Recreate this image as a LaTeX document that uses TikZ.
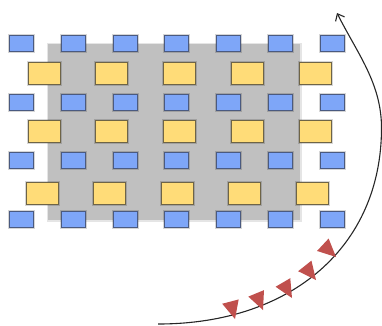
\documentclass[tikz,border=0pt]{standalone}
\usetikzlibrary{calc,arrows.meta}
\definecolor{bluefill}{HTML}{7EA6F8}
\definecolor{blueedge}{HTML}{4A5A80}
\definecolor{yelfill}{HTML}{FFDC78}
\definecolor{yeledge}{HTML}{6E6446}
\definecolor{grayfill}{HTML}{C0C0C0}
\definecolor{trired}{HTML}{C0504D}
\begin{document}
\begin{tikzpicture}[x=1pt,y=-1pt,
  halo/.style={preaction={draw=black,draw opacity=0.16,line width=3pt}},
  bluebox/.style={draw=blueedge,fill=bluefill,line width=0.9pt,minimum width=24pt,minimum height=16pt,inner sep=0pt,halo},
  yelbox/.style={draw=yeledge,fill=yelfill,line width=0.9pt,minimum width=32pt,minimum height=22pt,inner sep=0pt,halo},
  plate/.style={fill=grayfill,minimum width=252pt,minimum height=176pt,inner sep=0pt,preaction={draw=black,draw opacity=0.1,line width=3pt}},
  sweep/.style={draw=black!85,line width=1.1pt,-{Straight Barb[length=6pt,width=10pt]}},
  tri/.style={fill=trired}]
\useasboundingbox (0,0) rectangle (382,325);
\node[plate] (plate) at (174,132) {};
\foreach \c in {0,...,6}
  \foreach \r in {0,...,3}
    \node[bluebox] (b\r\c) at ({21.5+51.75*\c},{43.5+58.67*\r}) {};
\foreach \c in {0,...,4}{
  \node[yelbox] (ya\c) at ({44+67.75*\c},73.5) {};
  \node[yelbox] (yb\c) at ({44+67.75*\c},131) {};
  \node[yelbox] (yc\c) at ({42+67.6*\c},193) {};
}
\coordinate (s0) at (158,324);
\coordinate (s1) at (381.5,128);
\coordinate (s2) at (337,13);
\draw[sweep] (s0) .. controls (292,324) and (381.5,246) .. (s1)
  .. controls (381.5,83) and (357,53) .. (s2);
\foreach \tx/\ty/\p [count=\i] in {235/319/75.3, 263/310/67.6, 292/298/59.7, 316/280/51.5, 336/257/43}{
  \pgfmathsetmacro\pb{\p+180}
  \pgfmathsetmacro\pl{\p+90}
  \pgfmathsetmacro\pr{\p-90}
  \coordinate (t\i) at (\tx,\ty);
  \fill[tri] (t\i) -- ($(t\i)+(\pb:18)+(\pl:8.5)$) -- ($(t\i)+(\pb:18)+(\pr:8.5)$) -- cycle;
}
\end{tikzpicture}
\end{document}
